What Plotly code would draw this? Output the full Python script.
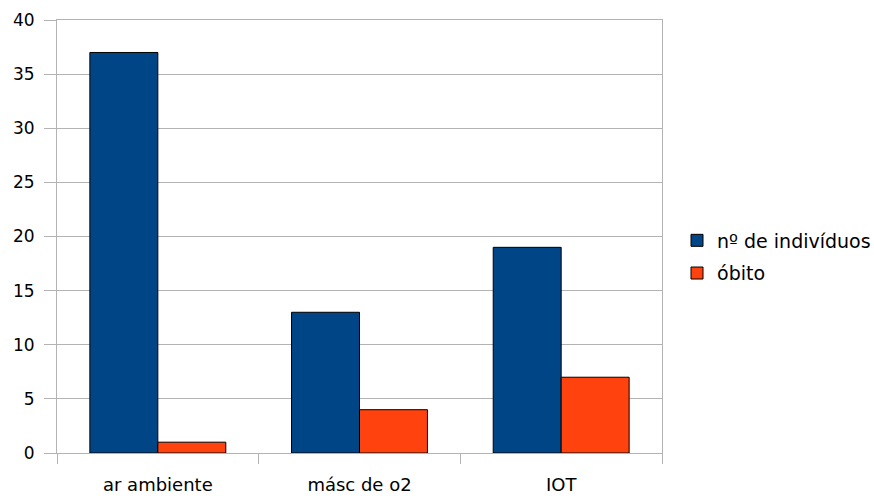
import plotly.graph_objects as go

categories = ["ar ambiente", "másc de o2", "IOT"]
individuos = [37, 13, 19]
obitos = [1, 4, 7]
y_ticks = [0, 5, 10, 15, 20, 25, 30, 35, 40]

font_family = "DejaVu Sans, Liberation Sans, Arial, sans-serif"

fig = go.Figure()
fig.add_trace(go.Bar(
    x=categories, y=individuos, name="nº de indivíduos",
    marker=dict(color="#004586", line=dict(color="#000000", width=1)),
    legendgroup="a",
))
fig.add_trace(go.Bar(
    x=categories, y=obitos, name="óbito",
    marker=dict(color="#ff420e", line=dict(color="#000000", width=1)),
    legendgroup="b",
))

fig.update_layout(
    width=874, height=496,
    margin=dict(l=57, r=212, t=20, b=43, autoexpand=False),
    paper_bgcolor="white", plot_bgcolor="white",
    barmode="group", bargap=0.326, bargroupgap=0,
    font=dict(family=font_family, size=17, color="#000000"),
    showlegend=True,
    legend=dict(
        x=1.0248, y=0.4527, xanchor="left", yanchor="middle",
        font=dict(size=19), tracegroupgap=5,
        bgcolor="rgba(0,0,0,0)",
    ),
    xaxis=dict(
        showgrid=False, showline=True, linecolor="#b3b3b3", linewidth=1,
        mirror=True, automargin=False,
        ticks="outside", tickson="boundaries", ticklen=10, tickcolor="#b3b3b3",
        tickfont=dict(size=18), ticklabelstandoff=15, zeroline=False,
    ),
    yaxis=dict(
        range=[0, 40], tickvals=y_ticks, automargin=False,
        showgrid=True, gridcolor="#b3b3b3", gridwidth=1,
        showline=True, linecolor="#b3b3b3", linewidth=1, mirror=True,
        ticks="outside", ticklen=12, tickcolor="#b3b3b3",
        tickfont=dict(size=17), ticklabelstandoff=6, zeroline=False,
    ),
)

fig.write_html("out.html")
